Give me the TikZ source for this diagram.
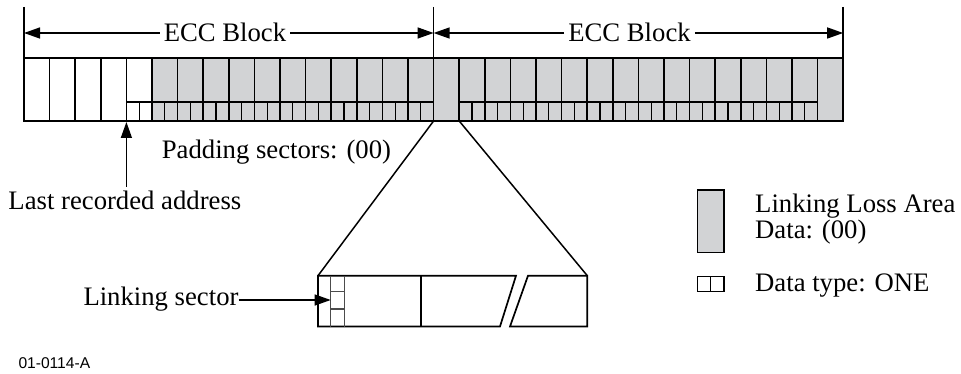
\documentclass[tikz,border=0pt]{standalone}
\usepackage{fontspec}
\setmainfont{Liberation Serif}
\newfontfamily\codefont{Liberation Sans}
\usetikzlibrary{arrows.meta}
\definecolor{lossgray}{RGB}{210,211,213}
\begin{document}
\begin{tikzpicture}[x=1pt,y=-1pt,
  lbl/.style={inner sep=0pt, font=\fontsize{26.7}{32}\selectfont, anchor=base west},
  ecc/.style={inner sep=4pt, font=\fontsize{26.7}{32}\selectfont, anchor=base},
  bar/.style={line width=1.7pt},
  thinline/.style={line width=1.3pt},
  arr/.style={line width=1.4pt, -{Triangle[length=16pt,width=11pt]}},
  ]
\useasboundingbox (0,0) rectangle (961,374);

% recorded bar
\fill[lossgray] (152.4,58) rectangle (843.2,121);
\draw[bar] (24,58) rectangle (843.2,121);
\foreach \i in {1,...,31} \draw[bar] ({24+25.6*\i},58) -- ({24+25.6*\i},121);
\draw[thinline] (126.4,102) -- (433.6,102);
\draw[thinline] (459.2,102) -- (817.6,102);
\foreach \i in {4,...,15} \draw[thinline] ({24+25.6*(\i+0.5)},102) -- ({24+25.6*(\i+0.5)},121);
\foreach \i in {17,...,30} \draw[thinline] ({24+25.6*(\i+0.5)},102) -- ({24+25.6*(\i+0.5)},121);

% ECC block dimension lines
\draw[bar] (24,7) -- (24,58);
\draw[bar] (433.6,7) -- (433.6,58);
\draw[bar] (843.2,7) -- (843.2,58);
\coordinate (b0) at (24,33);
\coordinate (b1) at (433.6,33);
\coordinate (b2) at (843.2,33);
\node[ecc] (e1) at (225,41.5) {ECC Block};
\node[ecc] (e2) at (629.5,41.5) {ECC Block};
\draw[arr] (e1.west |- b0) -- (b0);
\draw[arr] (e1.east |- b1) -- (b1);
\draw[arr] (e2.west |- b1) -- (b1);
\draw[arr] (e2.east |- b2) -- (b2);

% labels under bar
\node[lbl] (pad) at (161.7,158.5) {Padding sectors: (00)};
\node[lbl] (lra) at (8.3,209.5) {Last recorded address};
\coordinate (lrTail) at (126.4,187);
\coordinate (lrHead) at (126.4,122);
\draw[arr] (lrTail) -- (lrHead);

% zoom lines
\coordinate (z0) at (433.6,121);
\coordinate (z1) at (459.2,121);
\coordinate (zl) at (318,275.7);
\coordinate (zr) at (587.3,275.7);
\draw[line width=1.5pt] (z0) -- (zl);
\draw[line width=1.5pt] (z1) -- (zr);

% zoomed linking block
\draw[bar, line join=miter] (318,275.7) -- (516,275.7) -- (500,326.5) -- (318,326.5) -- cycle;
\draw[bar] (420.7,275.7) -- (420.7,326.5);
\draw[bar, line join=miter] (528,275.7) -- (587.3,275.7) -- (587.3,326.5) -- (510,326.5) -- cycle;
\draw[line width=1.4pt, black!70] (330.7,275.7) -- (330.7,326.5) (344.3,275.7) -- (344.3,326.5)
   (330.7,291.7) -- (344.3,291.7) (330.7,309) -- (344.3,309);

\node[lbl] (ls) at (83.3,305) {Linking sector};
\coordinate (lsHead) at (330.7,300);
\draw[arr] (ls.east |- lsHead) -- (lsHead);

% legend
\draw[line width=1.4pt, fill=lossgray] (697.3,190) rectangle (724,252.7);
\node[lbl] (leg1) at (755,212.5) {Linking Loss Area};
\node[lbl] (leg2) at (755,238.5) {Data: (00)};
\draw[line width=1.3pt] (697.3,276.7) rectangle (724,291.7);
\draw[line width=1.3pt] (710.7,276.7) -- (710.7,291.7);
\node[lbl] (leg3) at (755,291.7) {Data type: ONE};

\node[inner sep=0pt, anchor=base west, font=\codefont\fontsize{15.6}{18}\selectfont] (code) at (18.3,368.3) {01-0114-A};
\end{tikzpicture}
\end{document}
